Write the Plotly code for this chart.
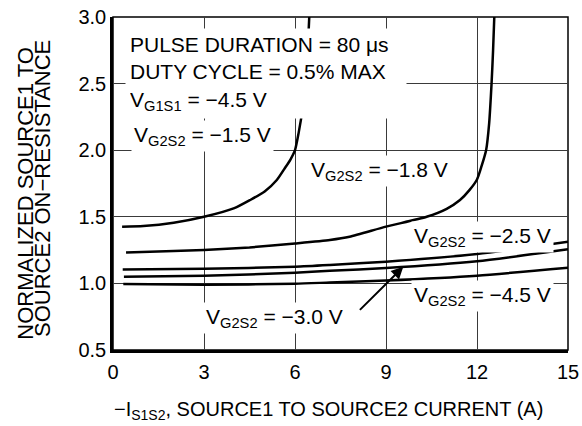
import plotly.graph_objects as go

FONT = "Liberation Sans, Arial, Helvetica, sans-serif"

# ---- data ----
x_15 = [0.30, 1.0, 2.0, 3.0, 4.0, 4.52, 5.0, 5.4, 5.65, 5.85, 6.0, 6.12, 6.25, 6.35, 6.42, 6.47]
y_15 = [1.425, 1.43, 1.455, 1.50, 1.565, 1.626, 1.69, 1.776, 1.86, 1.93, 2.0, 2.13, 2.31, 2.52, 2.75, 3.0]

x_18 = [0.43, 2.0, 3.0, 4.5, 6.0, 7.15, 7.8, 9.0, 10.34, 11.0, 11.44, 11.75, 12.0, 12.15, 12.3, 12.4, 12.48, 12.53, 12.57]
y_18 = [1.232, 1.243, 1.25, 1.27, 1.30, 1.326, 1.35, 1.426, 1.50, 1.56, 1.626, 1.70, 1.78, 1.88, 2.0, 2.2, 2.5, 2.75, 3.0]

x_25 = [0.32, 3.0, 6.0, 7.15, 9.0, 12.0, 15.0]
y_25 = [1.105, 1.11, 1.125, 1.138, 1.163, 1.22, 1.313]

x_30 = [0.36, 3.0, 6.0, 7.15, 9.0, 12.0, 15.0]
y_30 = [1.05, 1.057, 1.08, 1.095, 1.115, 1.166, 1.256]

x_45 = [0.34, 3.0, 6.0, 7.15, 9.0, 12.0, 15.0]
y_45 = [0.995, 0.99, 0.997, 1.007, 1.022, 1.058, 1.118]

x_ticks = [0, 3, 6, 9, 12, 15]
y_ticks = [0.5, 1.0, 1.5, 2.0, 2.5, 3.0]
y_tick_text = ["0.5", "1.0", "1.5", "2.0", "2.5", "3.0"]

series = [
    ("V<sub>G2S2</sub> = −1.5 V", x_15, y_15),
    ("V<sub>G2S2</sub> = −1.8 V", x_18, y_18),
    ("V<sub>G2S2</sub> = −2.5 V", x_25, y_25),
    ("V<sub>G2S2</sub> = −3.0 V", x_30, y_30),
    ("V<sub>G2S2</sub> = −4.5 V", x_45, y_45),
]

fig = go.Figure()
for name, xs, ys in series:
    fig.add_trace(go.Scatter(
        x=xs, y=ys, mode="lines", name=name,
        line=dict(color="black", width=2.5, shape="spline", smoothing=0.6),
        showlegend=False, hoverinfo="skip"))

ann_font = dict(family=FONT, size=21, color="black")

annotations = [
    dict(x=0.396, y=2.917, xanchor="left", yanchor="top", align="left", width=272,
         text="PULSE DURATION = 80 μs<br>DUTY CYCLE = 0.5% MAX<br>V<sub>G1S1</sub> = −4.5 V",
         borderpad=4),
    dict(x=0.59, y=2.107, xanchor="left", yanchor="middle", text="V<sub>G2S2</sub> = −1.5 V"),
    dict(x=6.43, y=1.844, xanchor="left", yanchor="middle", text="V<sub>G2S2</sub> = −1.8 V"),
    dict(x=9.83, y=1.352, xanchor="left", yanchor="middle", text="V<sub>G2S2</sub> = −2.5 V"),
    dict(x=9.83, y=0.905, xanchor="left", yanchor="middle", text="V<sub>G2S2</sub> = −4.5 V"),
    dict(x=2.97, y=0.737, xanchor="left", yanchor="middle", text="V<sub>G2S2</sub> = −3.0 V"),
]
for a in annotations:
    a.setdefault("borderpad", 2)
    a.update(xref="x", yref="y", showarrow=False, font=ann_font, bgcolor="white")

# arrow pointing to the -3.0 V curve
annotations.append(dict(
    x=9.57, y=1.125, ax=8.09, ay=0.79, xref="x", yref="y", axref="x", ayref="y",
    text="", showarrow=True, arrowhead=2, arrowsize=1.2, arrowwidth=2, arrowcolor="black"))

# y-axis title (two lines)
annotations.append(dict(
    x=-0.193, y=0.47, xref="paper", yref="paper", xanchor="center", yanchor="middle",
    text="NORMALIZED SOURCE1 TO", textangle=-90, showarrow=False,
    font=dict(family=FONT, size=22, color="black")))
annotations.append(dict(
    x=-0.155, y=0.485, xref="paper", yref="paper", xanchor="center", yanchor="middle",
    text="SOURCE2 ON−RESISTANCE", textangle=-90, showarrow=False,
    font=dict(family=FONT, size=22, color="black")))

# x-axis title
annotations.append(dict(
    x=0.474, y=-0.183, xref="paper", yref="paper", xanchor="center", yanchor="middle",
    text="−I<sub>S1S2</sub>, SOURCE1 TO SOURCE2 CURRENT (A)", showarrow=False,
    font=dict(family=FONT, size=20, color="black")))

fig.update_layout(
    width=582, height=426,
    margin=dict(l=113, r=14, t=17, b=76, autoexpand=False),
    paper_bgcolor="white", plot_bgcolor="white",
    font=dict(family=FONT, color="black"),
    annotations=annotations,
    shapes=[dict(type="rect", xref="paper", yref="paper", x0=0, y0=0, x1=1, y1=1,
                 line=dict(color="black", width=1.5), layer="below")],
    xaxis=dict(range=[0, 15], tickvals=x_ticks, showgrid=True, gridcolor="#3a3a3a",
               gridwidth=1, zeroline=False, showline=True, linecolor="black",
               linewidth=2.5, ticks="", tickfont=dict(size=20, family=FONT),
               ticklabelstandoff=2, automargin=False, fixedrange=True),
    yaxis=dict(range=[0.5, 3.0], tickvals=y_ticks, ticktext=y_tick_text, showgrid=True,
               gridcolor="#3a3a3a", gridwidth=1, zeroline=False, showline=True,
               linecolor="black", linewidth=2.5, ticks="",
               tickfont=dict(size=20, family=FONT), ticklabelstandoff=0,
               automargin=False, fixedrange=True),
)

fig.write_html("out.html", config={"displayModeBar": False},
               post_script="document.body.style.margin='0';document.body.style.overflow='hidden';")
